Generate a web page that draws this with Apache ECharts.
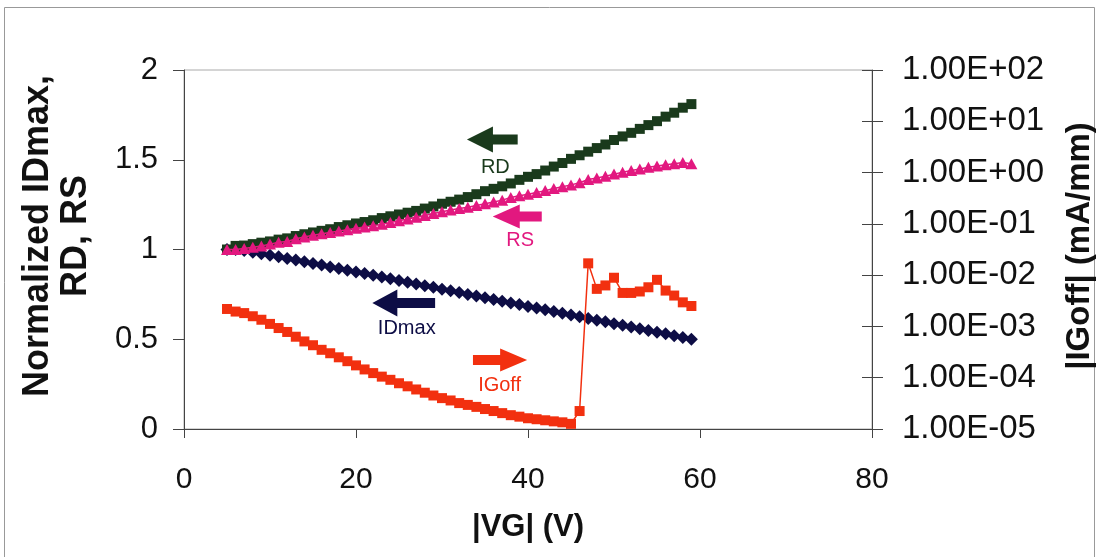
<!DOCTYPE html>
<html>
<head>
<meta charset="utf-8">
<script src="https://cdn.jsdelivr.net/npm/echarts@6/dist/echarts.min.js"></script>
<style>
  html, body { margin: 0; padding: 0; background: #fff; }
  #chart { width: 1099px; height: 557px; }
</style>
</head>
<body>
<div id="chart"></div>
<script>
// Gate voltage sweep |VG| (V)
const vg = [5,6,7,8,9,10,11,12,13,14,15,16,17,18,19,20,21,22,23,24,25,26,27,28,29,30,31,32,33,34,35,36,37,38,39,40,41,42,43,44,45,46,47,48,49,50,51,52,53,54,55,56,57,58,59];

// Normalized drain resistance RD
const rd = [1.000,1.020,1.022,1.030,1.038,1.045,1.055,1.062,1.075,1.085,1.095,1.104,1.113,1.125,1.135,1.145,1.153,1.163,1.175,1.185,1.195,1.205,1.215,1.228,1.240,1.255,1.266,1.278,1.292,1.308,1.325,1.338,1.352,1.368,1.388,1.405,1.420,1.440,1.462,1.482,1.505,1.525,1.545,1.565,1.585,1.610,1.630,1.650,1.672,1.693,1.715,1.740,1.762,1.790,1.810];

// Normalized source resistance RS
const rs = [1.000,1.000,1.005,1.012,1.020,1.030,1.040,1.045,1.060,1.070,1.080,1.088,1.095,1.103,1.110,1.118,1.125,1.133,1.140,1.150,1.160,1.170,1.180,1.190,1.200,1.210,1.220,1.228,1.235,1.245,1.255,1.265,1.275,1.290,1.300,1.308,1.318,1.328,1.340,1.350,1.360,1.372,1.390,1.398,1.408,1.420,1.430,1.440,1.448,1.458,1.465,1.472,1.478,1.485,1.478];

// Normalized maximum drain current IDmax
const idmax = [1.000,1.000,0.994,0.985,0.977,0.968,0.959,0.950,0.941,0.932,0.922,0.913,0.903,0.894,0.884,0.875,0.866,0.856,0.847,0.837,0.827,0.818,0.808,0.798,0.789,0.779,0.770,0.760,0.750,0.741,0.731,0.722,0.712,0.702,0.693,0.683,0.674,0.664,0.654,0.645,0.635,0.626,0.616,0.606,0.597,0.587,0.578,0.568,0.558,0.549,0.539,0.530,0.520,0.510,0.500];

// Off-state gate leakage |IGoff| (mA/mm)
const igoff = [2.19e-3,1.95e-3,1.82e-3,1.58e-3,1.35e-3,1.12e-3,9.3e-4,7.8e-4,6.3e-4,5.1e-4,4.3e-4,3.5e-4,3.0e-4,2.5e-4,2.1e-4,1.74e-4,1.45e-4,1.23e-4,1.05e-4,9.1e-5,7.8e-5,6.8e-5,5.9e-5,5.1e-5,4.5e-5,4.0e-5,3.6e-5,3.2e-5,2.95e-5,2.7e-5,2.45e-5,2.24e-5,2.04e-5,1.86e-5,1.74e-5,1.62e-5,1.55e-5,1.48e-5,1.41e-5,1.35e-5,1.26e-5,2.24e-5,1.70e-2,5.4e-3,6.3e-3,8.9e-3,4.5e-3,4.5e-3,4.8e-3,5.8e-3,8.1e-3,5.0e-3,4.0e-3,2.95e-3,2.5e-3];

// Tick labels
const xTicks = [0, 20, 40, 60, 80];
const leftTicks = [0, 0.5, 1, 1.5, 2];

// Arrow callouts (data coordinates on the left axis): from/to along x, y level, label position
const callouts = [
  { text: 'RD',    color: '#1a3a1c', x0: 32.9, x1: 38.8, y: 1.613, head: 26, headH: 26, lx: 36.2, ly: 1.455 },
  { text: 'RS',    color: '#e2187f', x0: 35.9, x1: 41.6, y: 1.184, head: 27, headH: 24, lx: 39.1, ly: 1.050 },
  { text: 'IDmax', color: '#0d0d45', x0: 21.9, x1: 29.2, y: 0.702, head: 25, headH: 27, lx: 25.9, ly: 0.560 },
  { text: 'IGoff', color: '#f2300f', x0: 39.9, x1: 33.6, y: 0.384, head: 27, headH: 23, lx: 36.7, ly: 0.243 }
];

const FONT = "'Liberation Sans', Arial, Helvetica, sans-serif";
const AXIS_COLOR = '#444';

const pairs = (ys) => vg.map((v, i) => [v, ys[i]]);

function sciLabel(v) {
  const e = Math.round(Math.log10(v));
  const s = e < 0 ? '-' : '+';
  return '1.00E' + s + String(Math.abs(e)).padStart(2, '0');
}

const chart = echarts.init(document.getElementById('chart'), null, { renderer: 'canvas' });

const option = {
  animation: false,
  backgroundColor: '#fff',
  grid: {
    left: 184, right: 227, top: 70, bottom: 128,
    show: true, borderColor: '#aaa', borderWidth: 1
  },
  xAxis: {
    type: 'value', min: xTicks[0], max: xTicks[xTicks.length - 1], interval: 20,
    axisLine: { lineStyle: { color: AXIS_COLOR, width: 1 } },
    axisTick: { show: true, inside: false, length: 9, lineStyle: { color: AXIS_COLOR } },
    splitLine: { show: false },
    axisLabel: { fontFamily: FONT, fontSize: 30, color: '#111', margin: 36 }
  },
  yAxis: [
    {
      type: 'value', position: 'left', min: leftTicks[0], max: leftTicks[leftTicks.length - 1], interval: 0.5,
      axisLine: { show: true, lineStyle: { color: AXIS_COLOR } },
      axisTick: { show: true, length: 11, lineStyle: { color: AXIS_COLOR } },
      splitLine: { show: false },
      axisLabel: { fontFamily: FONT, fontSize: 31, color: '#111', margin: 26 }
    },
    {
      type: 'log', logBase: 10, position: 'right', min: 1e-5, max: 1e2, interval: 1,
      axisLine: { show: true, lineStyle: { color: AXIS_COLOR } },
      axisTick: { show: true, length: 11, lineStyle: { color: AXIS_COLOR } },
      splitLine: { show: false },
      minorTick: { show: false },
      axisLabel: { fontFamily: FONT, fontSize: 33, color: '#111', margin: 30, formatter: sciLabel }
    },
    {
      // inner half of the crossing ticks on the right axis
      type: 'log', logBase: 10, position: 'right', min: 1e-5, max: 1e2, interval: 1,
      axisLine: { show: false },
      axisTick: { show: true, inside: true, length: 10, lineStyle: { color: AXIS_COLOR } },
      splitLine: { show: false },
      axisLabel: { show: false }
    }
  ],
  series: [
    {
      name: 'IDmax', type: 'line', yAxisIndex: 0, data: pairs(idmax),
      symbol: 'diamond', symbolSize: [13, 13],
      itemStyle: { color: '#0d0d45' }, lineStyle: { color: '#0d0d45', width: 1.5 }, z: 2
    },
    {
      name: 'RD', type: 'line', yAxisIndex: 0, data: pairs(rd),
      symbol: 'rect', symbolSize: 10,
      itemStyle: { color: '#1a3a1c' }, lineStyle: { color: '#1a3a1c', width: 1.5 }, z: 3
    },
    {
      name: 'RS', type: 'line', yAxisIndex: 0, data: pairs(rs),
      symbol: 'triangle', symbolSize: [12, 11],
      itemStyle: { color: '#e2187f' }, lineStyle: { color: '#e2187f', width: 1.5 }, z: 4
    },
    {
      name: 'IGoff', type: 'line', yAxisIndex: 1, data: pairs(igoff),
      symbol: 'rect', symbolSize: 10,
      itemStyle: { color: '#f2300f' }, lineStyle: { color: '#f2300f', width: 1.5 }, z: 5
    }
  ]
};

chart.setOption(option);

// Callout arrows and titles, positioned from the axes
const toPx = (x, y) => chart.convertToPixel({ xAxisIndex: 0, yAxisIndex: 0 }, [x, y]);
const graphics = [];

callouts.forEach((c) => {
  const a = toPx(c.x0, c.y);   // arrow tip
  const b = toPx(c.x1, c.y);   // arrow tail
  const dir = b[0] > a[0] ? 1 : -1;
  const cy = a[1];
  const sh = 5;                // half shaft thickness
  const hb = a[0] + dir * c.head;
  graphics.push({
    type: 'polygon',
    shape: { points: [
      [a[0], cy], [hb, cy - c.headH / 2], [hb, cy - sh], [b[0], cy - sh],
      [b[0], cy + sh], [hb, cy + sh], [hb, cy + c.headH / 2]
    ] },
    style: { fill: c.color }, z: 10
  });
  const l = toPx(c.lx, c.ly);
  graphics.push({
    type: 'text', x: l[0], y: l[1],
    style: { text: c.text, fill: c.color, font: '20px ' + FONT, textAlign: 'center', textVerticalAlign: 'middle' },
    z: 10
  });
});

// Axis titles
graphics.push({
  type: 'text', x: 57, y: 236, rotation: Math.PI / 2,
  style: { text: 'Normalized IDmax,\nRD, RS', fill: '#111', font: 'bold 36px ' + FONT,
           textAlign: 'center', textVerticalAlign: 'middle', lineHeight: 38 },
  z: 10
});
graphics.push({
  type: 'text', x: 1080, y: 246, rotation: Math.PI / 2,
  style: { text: '|IGoff| (mA/mm)', fill: '#111', font: 'bold 33px ' + FONT,
           textAlign: 'center', textVerticalAlign: 'middle' },
  z: 10
});
graphics.push({
  type: 'text', x: 528, y: 527,
  style: { text: '|VG| (V)', fill: '#111', font: 'bold 31px ' + FONT,
           textAlign: 'center', textVerticalAlign: 'middle' },
  z: 10
});

// Outer frame
graphics.push({
  type: 'rect', shape: { x: 4.5, y: 7.5, width: 1090, height: 560 },
  style: { fill: 'none', stroke: '#999', lineWidth: 1 }, z: 0
});

chart.setOption({ graphic: graphics });
</script>
</body>
</html>
